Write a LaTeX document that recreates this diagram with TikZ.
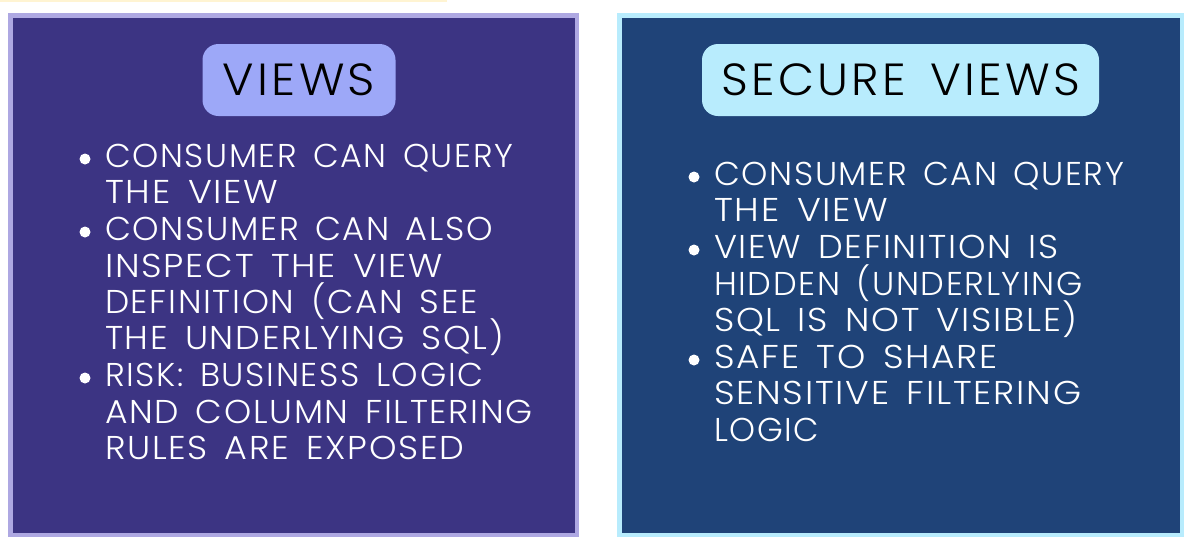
\documentclass[tikz,border=0pt]{standalone}
\usepackage{fontspec}
\setmainfont{Poppins Light}[LetterSpace=5,WordSpace=1.5]
\definecolor{violetbg}{HTML}{3C3483}
\definecolor{violetedge}{HTML}{AEA8E2}
\definecolor{violettag}{HTML}{9DA8F8}
\definecolor{bluebg}{HTML}{1F4378}
\definecolor{blueedge}{HTML}{B8ECFD}
\definecolor{bluetag}{HTML}{B8ECFD}
\definecolor{topstrip}{HTML}{FFF4D2}
\newcommand{\stretchline}[2]{\scalebox{#1}[1]{#2}}
\tikzset{
  x=1pt,y=-1pt,
  panel/.style={draw,line width=4.5pt,anchor=north west,inner sep=0pt,outer sep=0pt},
  tag/.style={rounded corners=16pt,inner sep=0pt,outer sep=0pt,text=black,font=\fontsize{45}{45}\selectfont\addfontfeature{LetterSpace=7}},
  itemline/.style={anchor=base west,inner sep=0pt,outer sep=0pt,text=white,font=\fontsize{33}{35}\selectfont},
  dotmark/.style={circle,fill=white,minimum size=11pt,inner sep=0pt,outer sep=0pt},
}
\begin{document}
\begin{tikzpicture}
\useasboundingbox (0,0) rectangle (1194,552);
\fill[white] (0,0) rectangle (1194,552);
\fill[topstrip] (0,0) rectangle (447,1.5);
\node[panel,fill=violetbg,draw=violetedge,minimum width=566.5pt,minimum height=519.5pt] (pa) at (10.25,15.25) {};
\node[panel,fill=bluebg,draw=blueedge,minimum width=562.5pt,minimum height=519.5pt] (pb) at (619.25,15.25) {};
\node[tag,fill=violettag,minimum width=193pt,minimum height=72pt] (ta) at (299,80) {\stretchline{1.06}{VIEWS}};
\node[tag,fill=bluetag,minimum width=397pt,minimum height=72pt] (tb) at (900.5,80) {\stretchline{1.04}{SECURE VIEWS}};
\node[dotmark] (da1) at (85,159) {};
\node[itemline] (a1) at (105,167) {\stretchline{1.01}{CONSUMER CAN QUERY}};
\node[itemline] (a2) at (105,203) {\stretchline{1.10}{THE VIEW}};
\node[dotmark] (da2) at (85,232) {};
\node[itemline] (a3) at (105,240) {\stretchline{1.02}{CONSUMER CAN ALSO}};
\node[itemline] (a4) at (105,277) {\stretchline{1.087}{INSPECT THE VIEW}};
\node[itemline] (a5) at (105,313) {\stretchline{1.04}{DEFINITION (CAN SEE}};
\node[itemline] (a6) at (105,349) {\stretchline{1.06}{THE UNDERLYING SQL)}};
\node[dotmark] (da3) at (85,378) {};
\node[itemline] (a7) at (105,386) {\stretchline{1.02}{RISK: BUSINESS LOGIC}};
\node[itemline] (a8) at (105,423) {\stretchline{1.047}{AND COLUMN FILTERING}};
\node[itemline] (a9) at (105,459) {\stretchline{1.06}{RULES ARE EXPOSED}};
\node[dotmark] (db1) at (694,177) {};
\node[itemline] (b1) at (714,185) {\stretchline{1.015}{CONSUMER CAN QUERY}};
\node[itemline] (b2) at (714,221) {\stretchline{1.10}{THE VIEW}};
\node[dotmark] (db2) at (694,250) {};
\node[itemline] (b3) at (714,258) {\stretchline{1.06}{VIEW DEFINITION IS}};
\node[itemline] (b4) at (714,295) {\stretchline{1.017}{HIDDEN (UNDERLYING}};
\node[itemline] (b5) at (714,331) {\stretchline{1.074}{SQL IS NOT VISIBLE)}};
\node[dotmark] (db3) at (694,360) {};
\node[itemline] (b6) at (714,368) {\stretchline{1.09}{SAFE TO SHARE}};
\node[itemline] (b7) at (714,404) {\stretchline{1.09}{SENSITIVE FILTERING}};
\node[itemline] (b8) at (714,441) {LOGIC};
\end{tikzpicture}
\end{document}
